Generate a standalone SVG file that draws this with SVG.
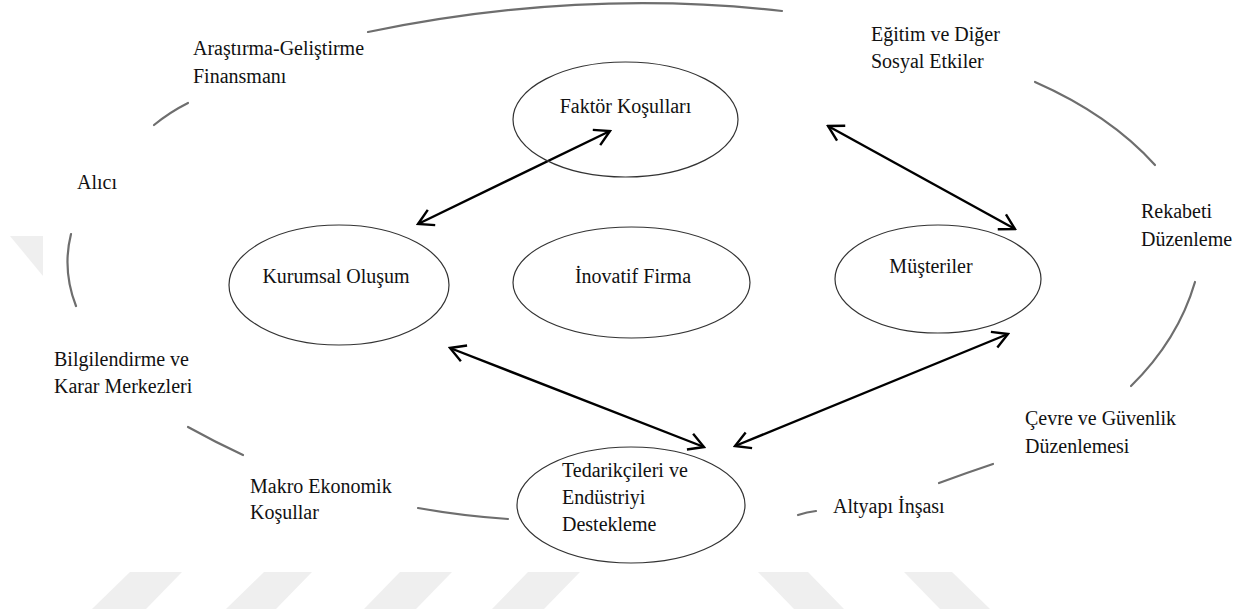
<svg xmlns="http://www.w3.org/2000/svg" width="1256" height="614" viewBox="0 0 1256 614">
<style>
.t{font-family:"Liberation Serif","Times New Roman",serif;font-size:20px;fill:#111}
.node{fill:none;stroke:#333;stroke-width:1.2}
.arc{fill:none;stroke:#6e6e6e;stroke-width:2.2;stroke-linecap:round}
.con{fill:none;stroke:#000;stroke-width:2.4}
.wm{fill:#efefef}
</style>
<defs>
<marker id="ah" viewBox="0 0 20 20" refX="18" refY="10" markerWidth="20" markerHeight="20" markerUnits="userSpaceOnUse" orient="auto-start-reverse">
<path d="M3,1.5 L18,10 L3,18.5" fill="none" stroke="#000" stroke-width="2.4"/>
</marker>
</defs>
<rect width="1256" height="614" fill="#fff"/>
<g id="watermark">
<polygon class="wm" points="10,236 43,236 43,276"/>
<polygon class="wm" points="130,572 182,572 146,609 92,609"/>
<polygon class="wm" points="264,572 312,572 276,609 226,609"/>
<polygon class="wm" points="400,572 452,572 416,609 364,609"/>
<polygon class="wm" points="528,572 580,572 544,609 492,609"/>
<polygon class="wm" points="758,572 808,572 844,609 794,609"/>
<polygon class="wm" points="904,572 952,572 990,609 940,609"/>
</g>
<g id="outer-ring">
<path class="arc" d="M368,32 Q580,-12 782,11"/>
<path class="arc" d="M154,125 Q170,112 188,103"/>
<path class="arc" d="M71,234 Q62,270 76,306"/>
<path class="arc" d="M188,427 Q215,442 243,455"/>
<path class="arc" d="M418,508 Q462,516 508,519"/>
<path class="arc" d="M798,515 Q807,512 816,511"/>
<path class="arc" d="M939,483 Q966,473 993,464"/>
<path class="arc" d="M1131,386 Q1178,340 1195,282"/>
<path class="arc" d="M1035,82 Q1110,115 1155,165"/>
</g>
<g id="connectors">
<line class="con" x1="418" y1="224" x2="610" y2="131" marker-start="url(#ah)" marker-end="url(#ah)"/>
<line class="con" x1="828" y1="126" x2="1015" y2="229" marker-start="url(#ah)" marker-end="url(#ah)"/>
<line class="con" x1="450" y1="348" x2="704" y2="447" marker-start="url(#ah)" marker-end="url(#ah)"/>
<line class="con" x1="735" y1="446" x2="1008" y2="334" marker-start="url(#ah)" marker-end="url(#ah)"/>
</g>
<g id="faktor">
<ellipse class="node" cx="625.5" cy="119.5" rx="112.5" ry="57.5"/>
<text class="t" x="625.5" y="113" text-anchor="middle">Faktör Koşulları</text>
</g>
<g id="inovatif">
<ellipse class="node" cx="631.5" cy="282.5" rx="118.5" ry="55.5"/>
<text class="t" x="633" y="283" text-anchor="middle">İnovatif Firma</text>
</g>
<g id="kurumsal">
<ellipse class="node" cx="339" cy="285" rx="110" ry="60"/>
<text class="t" x="336" y="283" text-anchor="middle">Kurumsal Oluşum</text>
</g>
<g id="musteriler">
<ellipse class="node" cx="938" cy="279" rx="103" ry="54"/>
<text class="t" x="931" y="273" text-anchor="middle">Müşteriler</text>
</g>
<g id="tedarikci">
<ellipse class="node" cx="631" cy="505" rx="114" ry="58"/>
<text class="t" x="562" y="477">Tedarikçileri ve</text>
<text class="t" x="562" y="504">Endüstriyi</text>
<text class="t" x="562" y="531">Destekleme</text>
</g>
<g id="arge"><text class="t" x="193" y="55">Araştırma-Geliştirme</text><text class="t" x="193" y="83">Finansmanı</text></g>
<g id="egitim"><text class="t" x="871" y="41">Eğitim ve Diğer</text><text class="t" x="871" y="68">Sosyal Etkiler</text></g>
<g id="alici"><text class="t" x="77" y="189">Alıcı</text></g>
<g id="rekabet"><text class="t" x="1141" y="218">Rekabeti</text><text class="t" x="1141" y="246">Düzenleme</text></g>
<g id="bilgi"><text class="t" x="54" y="366">Bilgilendirme ve</text><text class="t" x="54" y="393">Karar Merkezleri</text></g>
<g id="makro"><text class="t" x="250" y="493">Makro Ekonomik</text><text class="t" x="250" y="519">Koşullar</text></g>
<g id="cevre"><text class="t" x="1025" y="425">Çevre ve Güvenlik</text><text class="t" x="1025" y="453">Düzenlemesi</text></g>
<g id="altyapi"><text class="t" x="833" y="513">Altyapı İnşası</text></g>
</svg>
